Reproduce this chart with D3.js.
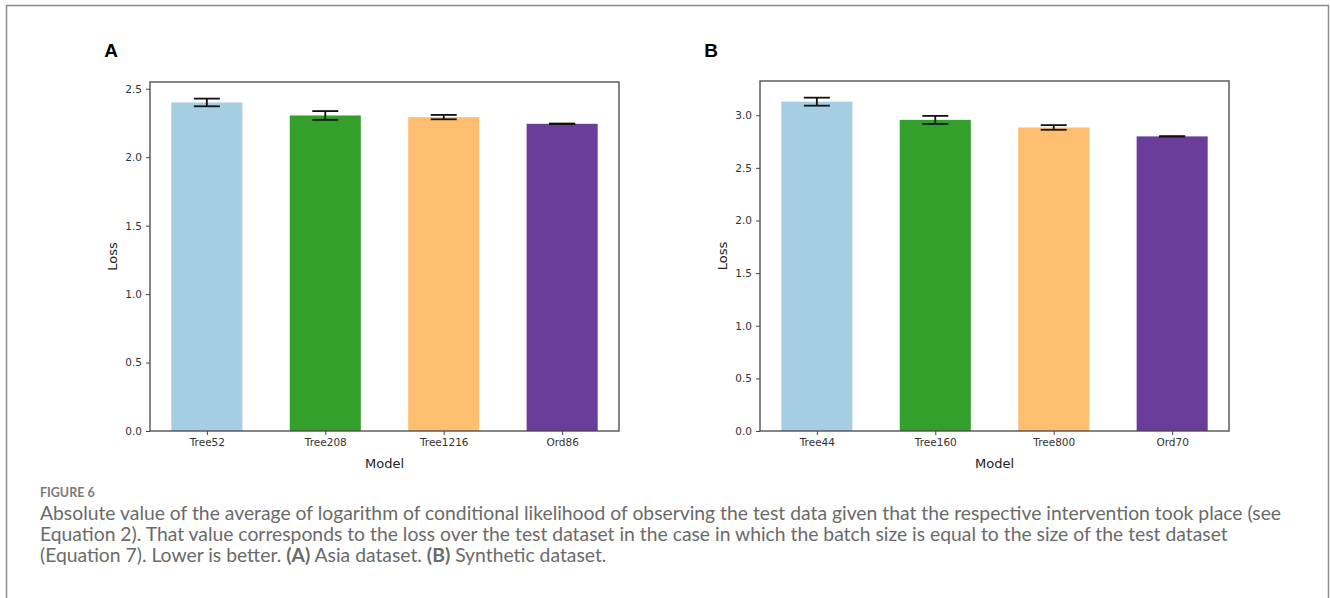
<!DOCTYPE html>
<html>
<head>
<meta charset="utf-8">
<script src="https://cdn.jsdelivr.net/npm/d3@7"></script>
<style>
  body { margin: 0; background: #fff; }
  svg { display: block; }
</style>
</head>
<body>
<script>
// panel A - Asia dataset
var modelsA = ["Tree52", "Tree208", "Tree1216", "Ord86"];
var lossA = [2.400, 2.305, 2.293, 2.244];
var errA = [0.028, 0.032, 0.016, 0.002];
// panel B - synthetic dataset
var modelsB = ["Tree44", "Tree160", "Tree800", "Ord70"];
var lossB = [3.129, 2.956, 2.884, 2.799];
var errB = [0.038, 0.038, 0.022, 0.002];

var barColors = ["#a6cee3", "#33a02c", "#fdbf6f", "#6a3d9a"];
var yTicksA = [0, 0.5, 1.0, 1.5, 2.0, 2.5];
var yTicksB = [0, 0.5, 1.0, 1.5, 2.0, 2.5, 3.0];

var captionLines = [
  [["Absolute value of the average of logarithm of conditional likelihood of observing the test data given that the respective intervention took place (see", false]],
  [["Equation 2). That value corresponds to the loss over the test dataset in the case in which the batch size is equal to the size of the test dataset", false]],
  [["(Equation 7). Lower is better. ", false], ["(A)", true], [" Asia dataset. ", false], ["(B)", true], [" Synthetic dataset.", false]]
];

var W = 1330, H = 598;
var svg = d3.select("body").append("svg").attr("width", W).attr("height", H);

// outer frame, open at the bottom
svg.append("path")
  .attr("d", "M6.5," + H + "V5.5H1328.5V" + H)
  .attr("fill", "none").attr("stroke", "#8a8a8a").attr("stroke-width", 1.5);

var axisFont = "'DejaVu Sans', sans-serif";

function drawPanel(letter, models, loss, err, yTicks, box) {
  var g = svg.append("g");
  var barW = 0.6;
  var x = d3.scaleLinear().domain([-0.48, models.length - 1 + 0.48]).range([box.left, box.right]);
  var ymax = d3.max(loss, function (d, i) { return d + err[i]; }) * 1.05;
  var y = d3.scaleLinear().domain([0, ymax]).range([box.bottom, box.top]);
  var data = models.map(function (m, i) { return { m: m, v: loss[i], e: err[i], i: i }; });

  g.selectAll("rect.bar").data(data).enter().append("rect")
    .attr("class", "bar")
    .attr("x", function (d) { return x(d.i - barW / 2); })
    .attr("width", function (d) { return x(d.i + barW / 2) - x(d.i - barW / 2); })
    .attr("y", function (d) { return y(d.v); })
    .attr("height", function (d) { return y(0) - y(d.v); })
    .attr("fill", function (d) { return barColors[d.i]; });

  // error bars
  var cap = 13;
  var eb = g.selectAll("g.err").data(data).enter().append("g").attr("class", "err")
    .attr("stroke", "#111").attr("stroke-width", 1.8);
  eb.append("line")
    .attr("x1", function (d) { return x(d.i); }).attr("x2", function (d) { return x(d.i); })
    .attr("y1", function (d) { return y(d.v - d.e); }).attr("y2", function (d) { return y(d.v + d.e); });
  eb.append("line")
    .attr("x1", function (d) { return x(d.i) - cap; }).attr("x2", function (d) { return x(d.i) + cap; })
    .attr("y1", function (d) { return y(d.v + d.e); }).attr("y2", function (d) { return y(d.v + d.e); });
  eb.append("line")
    .attr("x1", function (d) { return x(d.i) - cap; }).attr("x2", function (d) { return x(d.i) + cap; })
    .attr("y1", function (d) { return y(d.v - d.e); }).attr("y2", function (d) { return y(d.v - d.e); });

  // axes
  var yAxis = g.append("g").attr("transform", "translate(" + box.left + ",0)")
    .call(d3.axisLeft(y).tickValues(yTicks).tickFormat(d3.format(".1f")).tickSize(4).tickPadding(4));
  var xAxis = g.append("g").attr("transform", "translate(0," + box.bottom + ")")
    .call(d3.axisBottom(x).tickValues(d3.range(models.length)).tickFormat(function (i) { return models[i]; }).tickSize(4).tickPadding(4));
  [xAxis, yAxis].forEach(function (a) {
    a.select(".domain").remove();
    a.selectAll("line").attr("stroke", "#444");
    a.selectAll("text").attr("fill", "#333").attr("font-family", axisFont).attr("font-size", 10.5);
  });

  // spines
  g.append("rect")
    .attr("x", box.left).attr("y", box.top)
    .attr("width", box.right - box.left).attr("height", box.bottom - box.top)
    .attr("fill", "none").attr("stroke", "#444").attr("stroke-width", 1.3);

  g.append("text")
    .attr("x", (box.left + box.right) / 2).attr("y", box.bottom + 37)
    .attr("text-anchor", "middle").attr("font-family", axisFont).attr("font-size", 13)
    .attr("fill", "#222").text("Model");
  g.append("text")
    .attr("transform", "translate(" + (box.left - 33) + "," + ((box.top + box.bottom) / 2) + ") rotate(-90)")
    .attr("text-anchor", "middle").attr("font-family", axisFont).attr("font-size", 13)
    .attr("fill", "#222").text("Loss");

  g.append("text")
    .attr("x", box.letterX).attr("y", 57)
    .attr("text-anchor", "middle").attr("font-family", "'Liberation Sans', Arial, sans-serif")
    .attr("font-weight", "bold").attr("font-size", 19).attr("fill", "#000").text(letter);
}

drawPanel("A", modelsA, lossA, errA, yTicksA, { left: 150, right: 619, top: 82, bottom: 431, letterX: 111 });
drawPanel("B", modelsB, lossB, errB, yTicksB, { left: 760, right: 1229, top: 81, bottom: 431, letterX: 711 });

// caption
var capFont = "Lato, 'Open Sans', sans-serif";
svg.append("text")
  .attr("x", 40).attr("y", 497)
  .attr("font-family", capFont).attr("font-weight", "bold").attr("font-size", 12.5)
  .attr("fill", "#7a7a7a").text("FIGURE 6");

var capSize = 17;
var capTexts = captionLines.map(function (parts, li) {
  var t = svg.append("text")
    .attr("x", 40).attr("y", 519.5 + li * 21)
    .attr("font-family", capFont).attr("font-size", capSize).attr("fill", "#6a6a6a");
  parts.forEach(function (p) {
    t.append("tspan").attr("font-weight", p[1] ? "bold" : null).text(p[0]);
  });
  return t;
});
// scale caption font so the first line fills the measured width
var w0 = capTexts[0].node().getComputedTextLength();
var k = 1242 / w0;
capTexts.forEach(function (t) { t.attr("font-size", capSize * k); });
</script>
</body>
</html>
